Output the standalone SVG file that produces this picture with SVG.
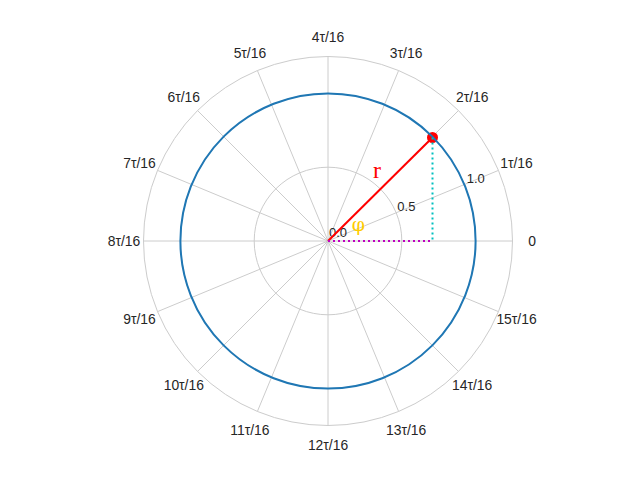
<svg xmlns="http://www.w3.org/2000/svg" width="640" height="480" viewBox="0 0 640 480">
<style>
.grid{stroke:#cccccc;stroke-width:1;fill:none}
.lbl{font-family:"Liberation Sans",Arial,sans-serif;font-size:13.9px;fill:#262626;text-anchor:middle}
.rl{font-family:"Liberation Sans",Arial,sans-serif;font-size:13px;fill:#262626}
</style>
<rect width="640" height="480" fill="#ffffff"/>
<g id="grid">
<circle class="grid" cx="328" cy="241" r="73.8"/>
<circle class="grid" cx="328" cy="241" r="147.6"/>
<line class="grid" x1="512.5" y1="241" x2="143.5" y2="241"/>
<line class="grid" x1="498.46" y1="170.39" x2="157.54" y2="311.61"/>
<line class="grid" x1="458.46" y1="110.54" x2="197.54" y2="371.46"/>
<line class="grid" x1="398.61" y1="70.54" x2="257.39" y2="411.46"/>
<line class="grid" x1="328" y1="56.5" x2="328" y2="425.5"/>
<line class="grid" x1="257.39" y1="70.54" x2="398.61" y2="411.46"/>
<line class="grid" x1="197.54" y1="110.54" x2="458.46" y2="371.46"/>
<line class="grid" x1="157.54" y1="170.39" x2="498.46" y2="311.61"/>
<circle class="grid" cx="328" cy="241" r="184.5"/>
</g>
<g id="angle-labels">
<text class="lbl" x="532" y="246">0</text>
<text class="lbl" x="516.5" y="167.9">1τ/16</text>
<text class="lbl" x="472.2" y="101.7">2τ/16</text>
<text class="lbl" x="406.1" y="57.5">3τ/16</text>
<text class="lbl" x="328" y="42">4τ/16</text>
<text class="lbl" x="249.9" y="57.5">5τ/16</text>
<text class="lbl" x="183.8" y="101.7">6τ/16</text>
<text class="lbl" x="139.5" y="167.9">7τ/16</text>
<text class="lbl" x="124" y="246">8τ/16</text>
<text class="lbl" x="139.5" y="324.1">9τ/16</text>
<text class="lbl" x="183.8" y="390.3">10τ/16</text>
<text class="lbl" x="249.9" y="434.5">11τ/16</text>
<text class="lbl" x="328" y="450">12τ/16</text>
<text class="lbl" x="406.1" y="434.5">13τ/16</text>
<text class="lbl" x="472.2" y="390.3">14τ/16</text>
<text class="lbl" x="516.5" y="324.1">15τ/16</text>
</g>
<g id="radial-labels">
<text class="rl" x="329" y="237.3">0.0</text>
<text class="rl" x="397.3" y="210.7">0.5</text>
<text class="rl" x="466.7" y="182.7">1.0</text>
</g>
<g id="connectors">
<line id="radius" x1="328" y1="241" x2="432.5" y2="137.5" stroke="#ff0000" stroke-width="2"/>
</g>
<g id="point">
<circle cx="432.5" cy="137.5" r="5.5" fill="#ff0000"/>
</g>
<g id="unit-circle">
<circle cx="328" cy="241" r="147.6" fill="none" stroke="#1f77b4" stroke-width="2"/>
</g>
<g id="projections">
<line x1="432.5" y1="137.5" x2="432.5" y2="241" stroke="#00bfbf" stroke-width="2" stroke-dasharray="2,3"/>
<line x1="328" y1="241" x2="432.5" y2="241" stroke="#bf00bf" stroke-width="2" stroke-dasharray="2,3"/>
</g>
<g id="symbols">
<text x="377" y="178" font-family="'Liberation Serif','Times New Roman',serif" font-size="24" fill="#ff0000" text-anchor="middle">r</text>
<text x="358.5" y="231" font-family="'DejaVu Serif','Liberation Serif',serif" font-size="19" fill="#ffcc00" text-anchor="middle">φ</text>
</g>
</svg>
